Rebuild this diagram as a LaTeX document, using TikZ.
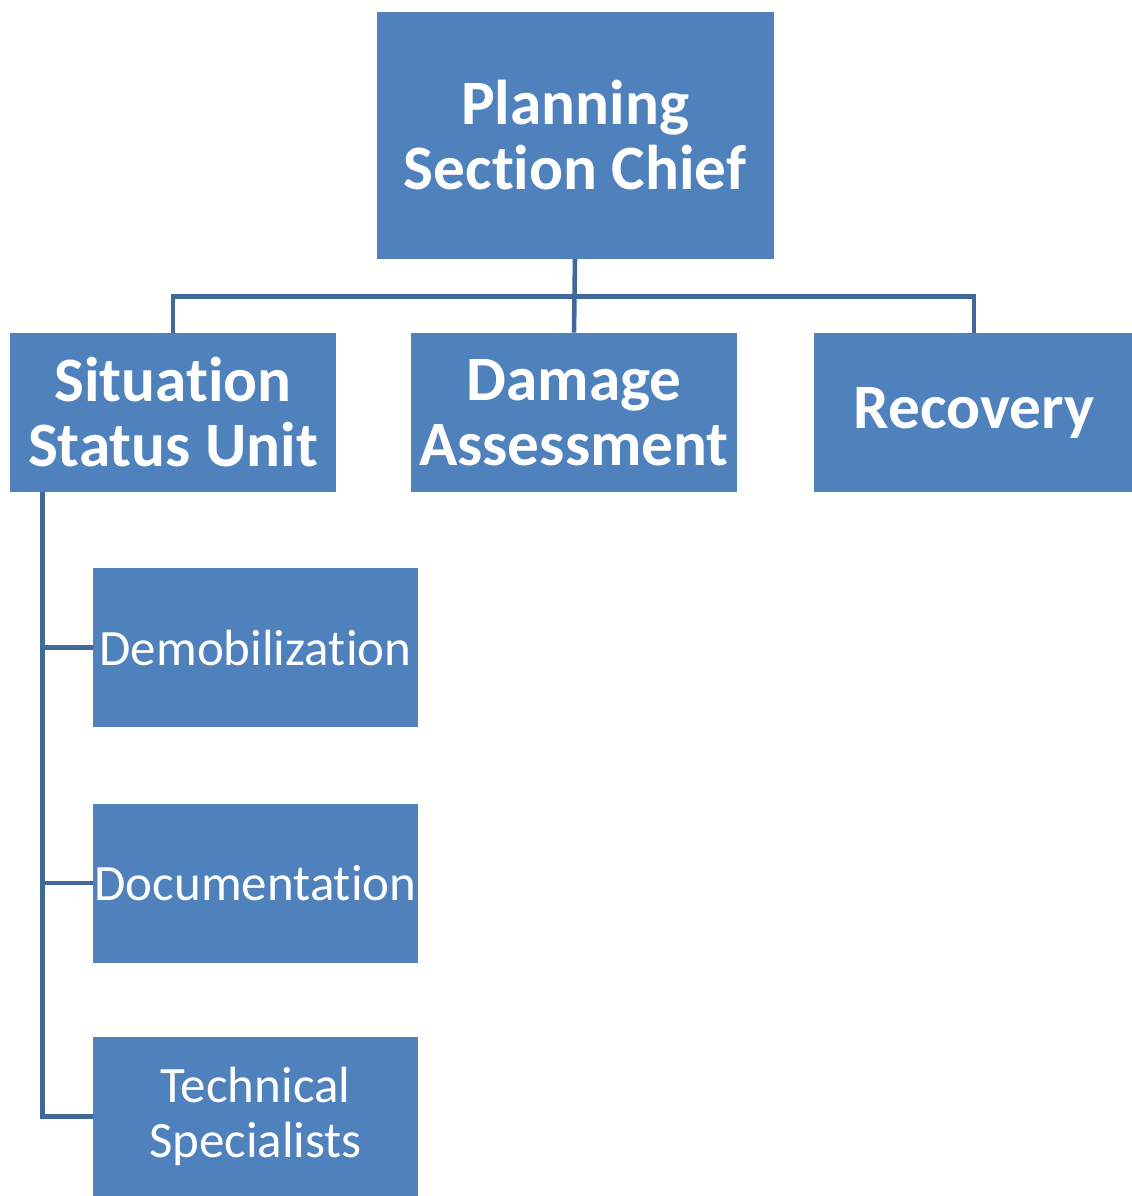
\documentclass[tikz,border=0pt]{standalone}
\usepackage{fontspec}
\setmainfont[Ligatures=NoCommon]{Carlito}
\usepackage{xcolor}
\usetikzlibrary{positioning, calc}
\definecolor{orgfill}{HTML}{4F81BD}
\definecolor{orgedge}{HTML}{41699A}
\tikzset{
  orgbox/.style={
    rectangle, fill=orgfill, align=center, text=white,
    minimum width=6.52cm, minimum height=3.18cm, inner sep=1pt
  },
  orgboxtop/.style={
    orgbox, font=\fontsize{36}{37}\selectfont\bfseries
  },
  orgboxsub/.style={
    orgbox, minimum width=6.5cm,
    font=\fontsize{29}{31}\selectfont
  },
  orgline/.style={
    line width=2.6pt, color=orgedge
  },
}
\begin{document}
\begin{tikzpicture}
  \useasboundingbox (0,0) rectangle (22.64,-23.92);

  % ── Section chief ──────────────────────────────────────────────
  \node[orgboxtop, minimum width=7.94cm, minimum height=4.94cm]
    (chief) at (11.5, -2.7) {Planning\\Section Chief};

  % ── Units ──────────────────────────────────────────────────────
  \node[orgboxtop] (situation) at (3.46, -8.25) {Situation\\Status Unit};
  \node[orgboxtop] (damage) at (11.48, -8.25) {Damage\\Assessment};
  \node[orgboxtop, minimum width=6.4cm] (recovery) at (19.48, -8.25) {Recovery};

  % ── Sub-units of situation status ──────────────────────────────
  \node[orgboxsub] (demob) at (5.11, -12.95) {Demobilization};
  \node[orgboxsub] (docs) at (5.11, -17.66) {Documentation};
  \node[orgboxsub] (techspec) at (5.11, -22.33) {Technical\\Specialists};

  % ── Connectors ─────────────────────────────────────────────────
  \coordinate (bus) at ($(chief.south)+(0,-0.75)$);
  \draw[orgline] (chief.south) -- (damage.north);
  \draw[orgline] (situation.north) |- (bus) -| (recovery.north);

  \coordinate (spine) at ($(situation.south west)+(0.66,0)$);
  \draw[orgline] (spine) |- (techspec.west);
  \draw[orgline] (spine |- demob.west) -- (demob.west);
  \draw[orgline] (spine |- docs.west) -- (docs.west);
\end{tikzpicture}
\end{document}
